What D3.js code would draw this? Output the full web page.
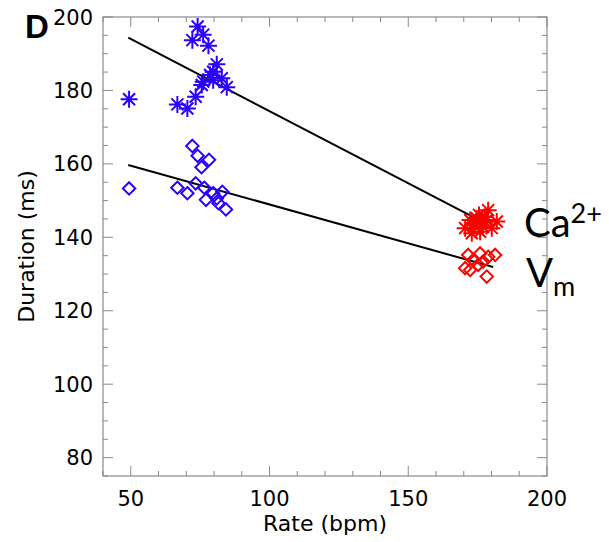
<!DOCTYPE html>
<html>
<head>
<meta charset="utf-8">
<script src="https://cdn.jsdelivr.net/npm/d3@7"></script>
<style>
  html, body { margin: 0; padding: 0; background: #fff; }
  svg { display: block; }
</style>
</head>
<body>
<svg id="chart" width="609" height="542"></svg>
<script>
// Rate (bpm) vs. duration (ms) for the Ca2+ transient and the membrane potential (Vm)
const xTicks = [50, 100, 150, 200];
const yTicks = [80, 100, 120, 140, 160, 180, 200];

// Low-rate recordings (blue)
const caLow = [
  [49.4, 177.6], [74.1, 197.4], [76.1, 195.2], [72.2, 193.7], [78.0, 192.2],
  [81.0, 187.1], [79.7, 185.1], [78.6, 184.2], [82.8, 183.3], [76.1, 182.4],
  [84.6, 180.9], [73.4, 178.3], [66.8, 176.2], [70.4, 175.1], [75.6, 181.5],
  [79.7, 182.8]
];
const vmLow = [
  [49.4, 153.3], [72.2, 164.9], [74.1, 162.2], [78.2, 161.1], [75.5, 159.1],
  [66.8, 153.5], [70.4, 152.0], [73.4, 154.7], [76.5, 153.5], [79.7, 152.0],
  [83.0, 152.4], [77.1, 150.2], [81.0, 150.6], [81.6, 149.3], [84.3, 147.6]
];

// High-rate recordings (red)
const caHigh = [
  [172.3, 144.7], [178.8, 147.4], [181.9, 144.3], [174.1, 143.4], [170.5, 142.5],
  [176.9, 142.9], [180.1, 142.5], [172.9, 141.1], [175.9, 141.5], [174.7, 145.2],
  [178.3, 144.7], [175.5, 146.1], [173.5, 143.8], [177.5, 145.5]
];
const vmHigh = [
  [171.6, 135.2], [175.9, 135.6], [178.8, 134.7], [181.3, 135.2], [170.5, 131.6],
  [172.3, 131.1], [175.2, 132.5], [178.3, 129.3], [177.0, 133.4], [173.4, 133.8]
];

// Linear fits
const caFit = [[49.1, 194.4], [178.0, 143.7]];
const vmFit = [[49.1, 159.7], [180.6, 131.9]];

const svg = d3.select("#chart");
const margin = { left: 103, right: 62, top: 17, bottom: 66 };
const W = 609, H = 542;

const x = d3.scaleLinear().domain([40, 200]).range([margin.left, W - margin.right]);
const y = d3.scaleLinear().domain([75, 200]).range([H - margin.bottom, margin.top]);

const axisFont = "'DejaVu Sans', sans-serif";
const boxColor = "#8a8a8a";
const x0 = x.range()[0], x1 = x.range()[1];
const y0 = y.range()[0], y1 = y.range()[1];

// Frame
svg.append("rect")
  .attr("x", x0).attr("y", y1)
  .attr("width", x1 - x0).attr("height", y0 - y1)
  .attr("fill", "none").attr("stroke", boxColor).attr("stroke-width", 1.2);

// Inward ticks on all four sides
const xMinor = d3.range(40, 201, 10);
const yMinor = d3.range(75, 201, 5);
const tickG = svg.append("g").attr("stroke", boxColor).attr("stroke-width", 1);
xMinor.forEach(v => {
  const len = xTicks.includes(v) ? 10 : 5;
  tickG.append("line").attr("x1", x(v)).attr("x2", x(v)).attr("y1", y0).attr("y2", y0 - len);
  tickG.append("line").attr("x1", x(v)).attr("x2", x(v)).attr("y1", y1).attr("y2", y1 + len);
});
yMinor.forEach(v => {
  const len = yTicks.includes(v) ? 10 : 5;
  tickG.append("line").attr("y1", y(v)).attr("y2", y(v)).attr("x1", x0).attr("x2", x0 + len);
  tickG.append("line").attr("y1", y(v)).attr("y2", y(v)).attr("x1", x1).attr("x2", x1 - len);
});

// Tick labels
svg.append("g").selectAll("text").data(xTicks).join("text")
  .style("font-family", axisFont)
  .attr("x", d => x(d)).attr("y", y0 + 30)
  .attr("text-anchor", "middle").attr("font-size", 21)
  .text(d => d);
svg.append("g").selectAll("text").data(yTicks).join("text")
  .style("font-family", axisFont)
  .attr("x", x0 - 10).attr("y", d => y(d))
  .attr("dy", "0.36em")
  .attr("text-anchor", "end").attr("font-size", 21)
  .text(d => d);

// Axis titles
svg.append("text")
  .style("font-family", axisFont)
  .attr("x", (x0 + x1) / 2).attr("y", 531)
  .attr("text-anchor", "middle").attr("font-size", 22)
  .text("Rate (bpm)");
svg.append("text")
  .style("font-family", axisFont)
  .attr("transform", `translate(34,${(y0 + y1) / 2}) rotate(-90)`)
  .attr("text-anchor", "middle").attr("font-size", 22)
  .text("Duration (ms)");

// Panel letter
svg.append("text")
  .style("font-family", "'Liberation Sans', Arial, sans-serif")
  .attr("x", 25).attr("y", 38)
  .attr("font-weight", "bold").attr("font-size", 33)
  .text("D");

// Fit lines
const line = d3.line().x(d => x(d[0])).y(d => y(d[1]));
[caFit, vmFit].forEach(f => {
  svg.append("path").attr("d", line(f))
    .attr("fill", "none").attr("stroke", "#000").attr("stroke-width", 2);
});

// Markers
const rA = 8.5;
function asterisk(r) {
  const p = d3.path();
  for (let k = 0; k < 4; k++) {
    const a = k * Math.PI / 4;
    p.moveTo(-r * Math.cos(a), -r * Math.sin(a));
    p.lineTo(r * Math.cos(a), r * Math.sin(a));
  }
  return p.toString();
}
function diamond(r) {
  return `M0,${-r}L${r},0L0,${r}L${-r},0Z`;
}
const blue = "#2a00ff", red = "#ff0000";

function drawMarks(data, shape, color) {
  svg.append("g").selectAll("path").data(data).join("path")
    .attr("transform", d => `translate(${x(d[0])},${y(d[1])})`)
    .attr("d", shape)
    .attr("fill", "none").attr("stroke", color).attr("stroke-width", 2);
}
drawMarks(vmLow, diamond(6.2), blue);
drawMarks(caLow, asterisk(rA), blue);
drawMarks(vmHigh, diamond(6.2), red);
drawMarks(caHigh, asterisk(rA), red);

// Series labels
const labelFont = "Lato, 'Open Sans', sans-serif";
const ca = svg.append("text").style("font-family", labelFont)
  .attr("x", 524).attr("y", 237).attr("font-size", 40);
ca.append("tspan").text("Ca");
ca.append("tspan").attr("font-size", 27).attr("dy", -14).text("2+");
const vm = svg.append("text").style("font-family", labelFont)
  .attr("x", 526).attr("y", 287).attr("font-size", 40);
vm.append("tspan").text("V");
vm.append("tspan").attr("font-size", 27).attr("dy", 9).text("m");
</script>
</body>
</html>
